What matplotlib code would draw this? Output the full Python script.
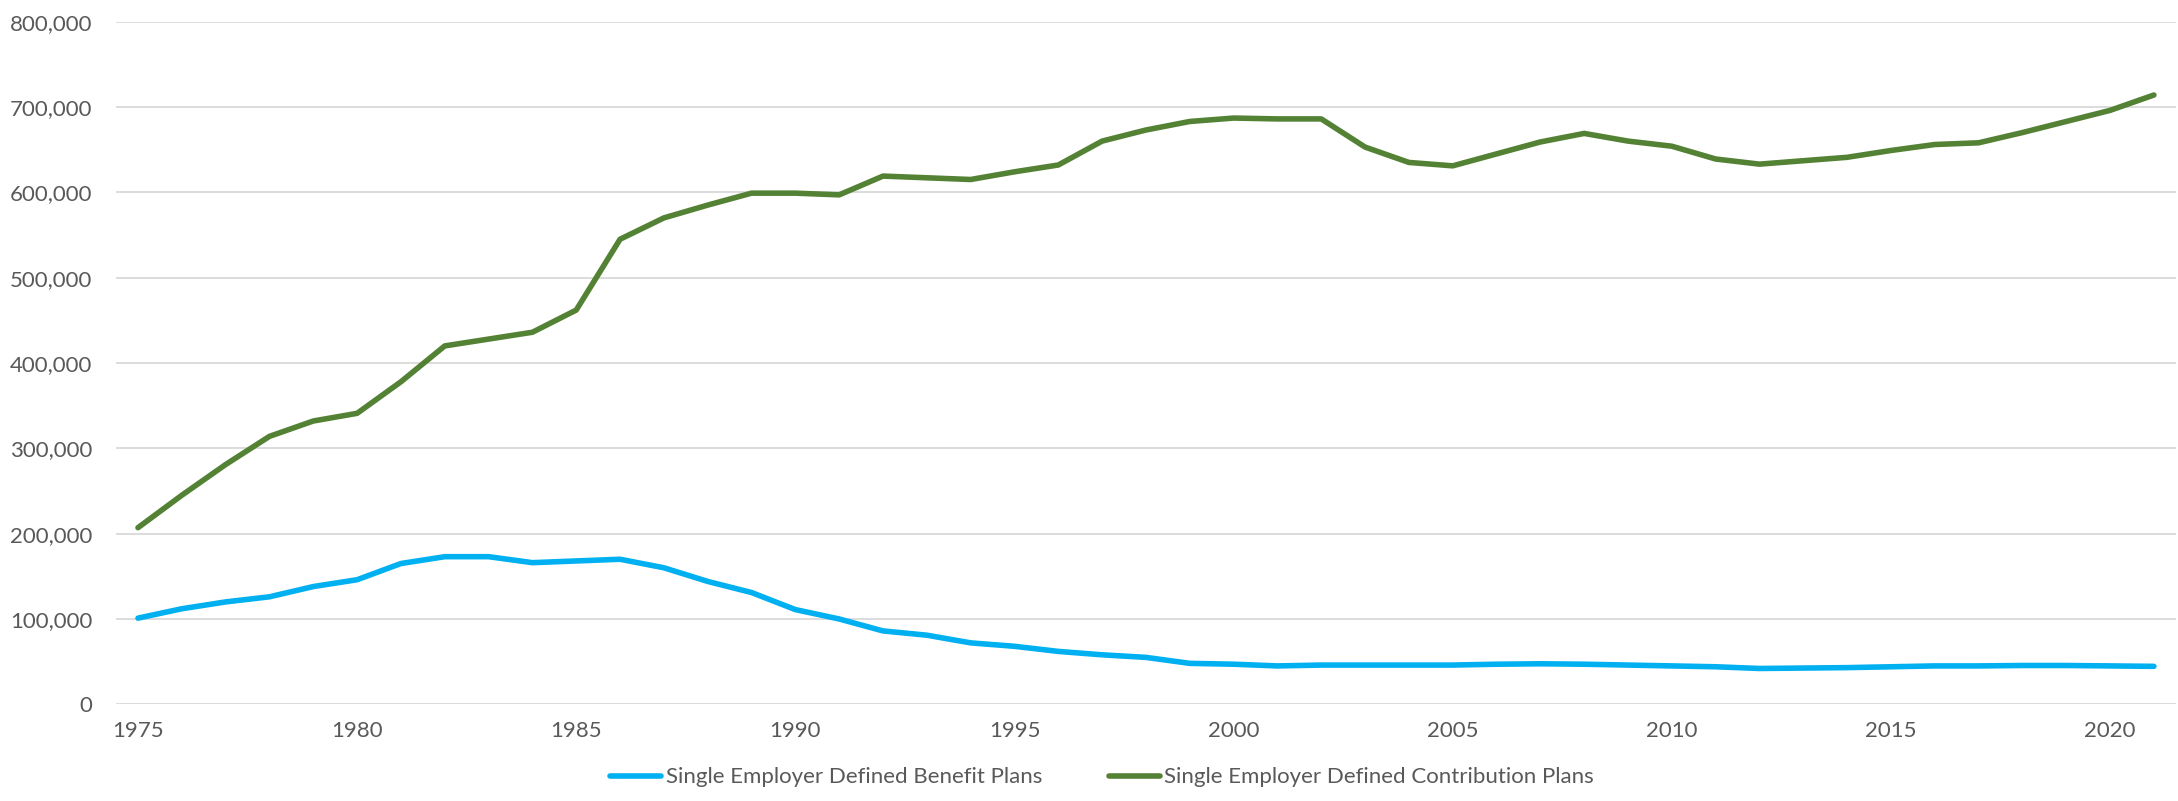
import matplotlib.pyplot as plt
from matplotlib.ticker import FuncFormatter, MultipleLocator

# Nombre de régimes par année
years = list(range(1975, 2022))

db_plans = [101, 112, 120, 126, 138, 146, 165, 173, 173, 166,
            168, 170, 160, 144, 131, 111, 100, 86, 81, 72,
            68, 62, 58, 55, 48, 47, 45, 46, 46, 46,
            46, 47, 47.5, 47, 46, 45, 44, 42, 42.5, 43,
            44, 45, 45, 45.5, 45.5, 45, 44.5]

dc_plans = [207, 245, 281, 314, 332, 341, 378, 420, 428, 436,
            462, 545, 570, 585, 599, 599, 597, 619, 617, 615,
            624, 632, 660, 673, 683, 687, 686, 686, 653, 635,
            631, 645, 659, 669, 660, 654, 639, 633, 637, 641,
            649, 656, 658, 670, 683, 696, 714]

db_plans = [v * 1000 for v in db_plans]
dc_plans = [v * 1000 for v in dc_plans]

label_db = "Single Employer Defined Benefit Plans"
label_dc = "Single Employer Defined Contribution Plans"

plt.rcParams['font.family'] = ['Lato', 'DejaVu Sans']
text_color = "#595959"

fig = plt.figure(figsize=(21.78, 8.01), dpi=100)
ax = fig.add_axes([0.0533, 0.1207, 0.9457, 0.8523])

ax.plot(years, db_plans, color="#00B0F0", lw=4, solid_capstyle="round",
        solid_joinstyle="round", label=label_db)
ax.plot(years, dc_plans, color="#548235", lw=4, solid_capstyle="round",
        solid_joinstyle="round", label=label_dc)

ax.set_xlim(1974.5, 2021.5)
ax.set_ylim(0, 800000)
ax.yaxis.set_major_locator(MultipleLocator(100000))
ax.xaxis.set_major_locator(MultipleLocator(5))
ax.yaxis.set_major_formatter(FuncFormatter(lambda v, p: f"{int(v):,}"))

ax.grid(axis="y", color="#D9D9D9", lw=1.3)
ax.set_axisbelow(True)
for s in ax.spines.values():
    s.set_visible(False)
ax.tick_params(axis="both", length=0, labelsize=16, labelcolor=text_color)
ax.tick_params(axis="y", pad=17)
ax.tick_params(axis="x", pad=12)

fig.legend(loc="lower center", bbox_to_anchor=(0.506, -0.008), ncol=2,
           frameon=False, fontsize=16, labelcolor=text_color,
           handlelength=2.3, handletextpad=0.2, columnspacing=3.0)

fig.savefig("out.png", dpi=100)
